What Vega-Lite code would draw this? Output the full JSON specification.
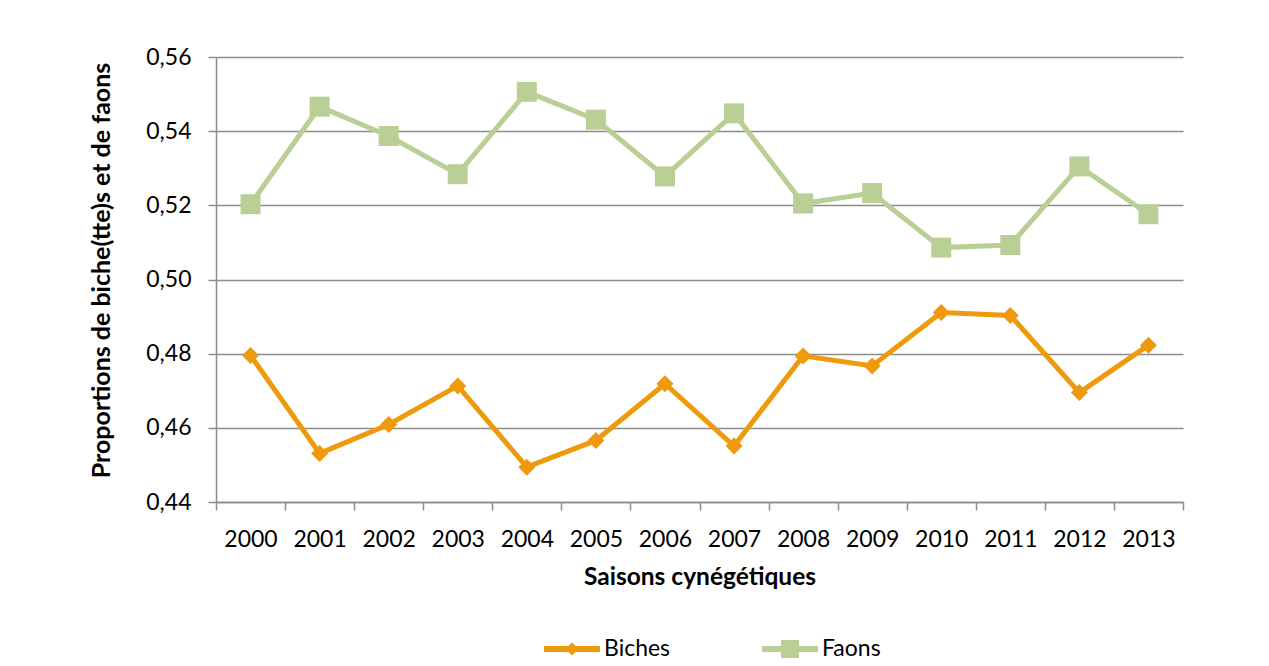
{
  "$schema": "https://vega.github.io/schema/vega-lite/v6.json",
  "autosize": "none",
  "width": 967,
  "height": 445,
  "padding": {"left": 216, "top": 57, "right": 86, "bottom": 164},
  "background": "white",
  "config": {
    "font": "Lato",
    "view": {"stroke": null},
    "axis": {"labelFont": "Lato", "titleFont": "Lato", "labelColor": "#000000", "titleColor": "#000000"},
    "legend": {"labelFont": "Lato", "labelColor": "#000000", "labelFontSize": 23}
  },
  "data": {
    "values": [
      {"annee": 2000, "serie": "Biches", "valeur": 0.4795},
      {"annee": 2001, "serie": "Biches", "valeur": 0.4531},
      {"annee": 2002, "serie": "Biches", "valeur": 0.4609},
      {"annee": 2003, "serie": "Biches", "valeur": 0.4713},
      {"annee": 2004, "serie": "Biches", "valeur": 0.4494},
      {"annee": 2005, "serie": "Biches", "valeur": 0.4566},
      {"annee": 2006, "serie": "Biches", "valeur": 0.4719},
      {"annee": 2007, "serie": "Biches", "valeur": 0.4551},
      {"annee": 2008, "serie": "Biches", "valeur": 0.4794},
      {"annee": 2009, "serie": "Biches", "valeur": 0.4767},
      {"annee": 2010, "serie": "Biches", "valeur": 0.4911},
      {"annee": 2011, "serie": "Biches", "valeur": 0.4903},
      {"annee": 2012, "serie": "Biches", "valeur": 0.4695},
      {"annee": 2013, "serie": "Biches", "valeur": 0.4823},
      {"annee": 2000, "serie": "Faons", "valeur": 0.5203},
      {"annee": 2001, "serie": "Faons", "valeur": 0.5466},
      {"annee": 2002, "serie": "Faons", "valeur": 0.5387},
      {"annee": 2003, "serie": "Faons", "valeur": 0.5284},
      {"annee": 2004, "serie": "Faons", "valeur": 0.5506},
      {"annee": 2005, "serie": "Faons", "valeur": 0.5431},
      {"annee": 2006, "serie": "Faons", "valeur": 0.5278},
      {"annee": 2007, "serie": "Faons", "valeur": 0.5448},
      {"annee": 2008, "serie": "Faons", "valeur": 0.5205},
      {"annee": 2009, "serie": "Faons", "valeur": 0.5233},
      {"annee": 2010, "serie": "Faons", "valeur": 0.5086},
      {"annee": 2011, "serie": "Faons", "valeur": 0.5093},
      {"annee": 2012, "serie": "Faons", "valeur": 0.5305},
      {"annee": 2013, "serie": "Faons", "valeur": 0.5176}
    ]
  },
  "layer": [
    {
      "mark": {"type": "line", "strokeWidth": 5, "strokeJoin": "miter"},
      "encoding": {
        "x": {
          "field": "annee", "type": "quantitative",
          "scale": {"domain": [1999.5, 2013.5], "nice": false, "zero": false},
          "axis": {
            "orient": "bottom",
            "values": [2000, 2001, 2002, 2003, 2004, 2005, 2006, 2007, 2008, 2009, 2010, 2011, 2012, 2013],
            "format": "d", "ticks": false, "grid": false,
            "domain": true, "domainColor": "#8C8C8C", "domainWidth": 1.5,
            "labelFontSize": 23, "labelPadding": 26,
            "title": "Saisons cynégétiques", "titleFontSize": 24.5, "titleFontWeight": "bold", "titlePadding": 14
          }
        },
        "y": {
          "field": "valeur", "type": "quantitative",
          "scale": {"domain": [0.44, 0.56], "nice": false, "zero": false},
          "axis": {
            "values": [0.44, 0.46, 0.48, 0.5, 0.52, 0.54, 0.56],
            "labelExpr": "replace(format(datum.value, '.2f'), '.', ',')",
            "grid": true, "gridColor": "#8C8C8C", "gridWidth": 1.5,
            "domain": true, "domainColor": "#8C8C8C", "domainWidth": 1.5,
            "ticks": true, "tickSize": 8, "tickColor": "#8C8C8C", "tickWidth": 1.5,
            "labelFontSize": 23, "labelPadding": 17,
            "title": "Proportions de biche(tte)s et de faons", "titleFontSize": 25, "titleFontWeight": "bold", "titlePadding": 31, "titleY": 213
          }
        },
        "color": {
          "field": "serie", "type": "nominal",
          "scale": {"domain": ["Biches", "Faons"], "range": ["#EE9A0C", "#B9CF95"]},
          "legend": null
        }
      }
    },
    {
      "mark": {"type": "point", "filled": true, "opacity": 1},
      "encoding": {
        "x": {"field": "annee", "type": "quantitative", "axis": null},
        "y": {"field": "valeur", "type": "quantitative"},
        "color": {"field": "serie", "type": "nominal", "legend": null},
        "shape": {
          "field": "serie", "type": "nominal",
          "scale": {"domain": ["Biches", "Faons"], "range": ["diamond", "square"]},
          "legend": null
        },
        "size": {
          "field": "serie", "type": "nominal",
          "scale": {"domain": ["Biches", "Faons"], "range": [289, 400]},
          "legend": null
        }
      }
    },
    {
      "transform": [{"filter": "datum.serie === 'Biches'"}],
      "mark": {"type": "point", "filled": true, "opacity": 0, "color": "#EE9A0C", "fill": "#EE9A0C", "stroke": "#EE9A0C"},
      "encoding": {
        "x": {
          "field": "annee", "type": "quantitative",
          "axis": {
            "orient": "bottom",
            "values": [1999.5, 2000.5, 2001.5, 2002.5, 2003.5, 2004.5, 2005.5, 2006.5, 2007.5, 2008.5, 2009.5, 2010.5, 2011.5, 2012.5, 2013.5],
            "labels": false, "grid": false, "domain": false,
            "ticks": true, "tickSize": 8, "tickColor": "#8C8C8C", "tickWidth": 1.5,
            "title": null
          }
        },
        "y": {"field": "valeur", "type": "quantitative"},
        "shape": {
          "field": "serie", "type": "nominal",
          "scale": {"domain": ["Biches"], "range": ["M-1,0H1M0,-0.085L0.085,0L0,0.085L-0.085,0Z"]},
          "legend": {
            "title": null,
            "orient": "none",
            "direction": "horizontal",
            "legendX": 325,
            "legendY": 561,
            "symbolSize": 3136,
            "symbolStrokeWidth": 6,
            "symbolOpacity": 1,
            "symbolFillColor": "#EE9A0C",
            "labelOffset": 1,
            "padding": 0
          }
        }
      }
    },
    {
      "transform": [{"filter": "datum.serie === 'Faons'"}],
      "mark": {"type": "point", "filled": true, "opacity": 0, "color": "#B9CF95", "fill": "#B9CF95", "stroke": "#B9CF95"},
      "encoding": {
        "x": {"field": "annee", "type": "quantitative", "axis": null},
        "y": {"field": "valeur", "type": "quantitative"},
        "shape": {
          "field": "serie", "type": "nominal",
          "scale": {"domain": ["Faons"], "range": ["M-1,0H1M-0.214,-0.214H0.214V0.214H-0.214Z"]},
          "legend": {
            "title": null,
            "orient": "none",
            "direction": "horizontal",
            "legendX": 543,
            "legendY": 561,
            "symbolSize": 3136,
            "symbolStrokeWidth": 6,
            "symbolOpacity": 1,
            "symbolFillColor": "#B9CF95",
            "labelOffset": 1,
            "padding": 0
          }
        }
      }
    }
  ],
  "resolve": {
    "axis": {"x": "independent"},
    "scale": {"shape": "independent"},
    "legend": {"shape": "independent"}
  }
}
